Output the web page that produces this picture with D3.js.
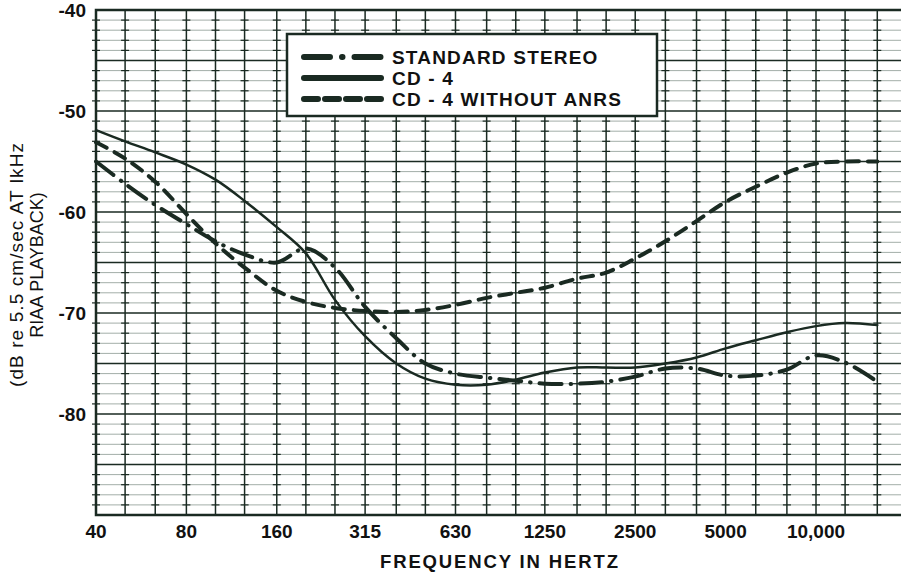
<!DOCTYPE html>
<html>
<head>
<meta charset="utf-8">
<script src="https://cdn.jsdelivr.net/npm/d3@7/dist/d3.min.js"></script>
<style>
    body { margin: 0; background: #fff; }
    svg { display: block; font-family: "Liberation Sans", Arial, sans-serif; }
</style>
</head>
<body>
<svg width="901" height="574"></svg>
<script>
// Частоты (1/3 октавы) и значения кривых, дБ
const freqs = [40, 50, 63, 80, 100, 125, 160, 200, 250, 315, 400, 500, 630, 800, 1000,
    1250, 1600, 2000, 2500, 3150, 4000, 5000, 6300, 8000, 10000, 12500, 16000];

const stereo = [-55.0, -57.2, -59.3, -61.2, -62.9, -64.2, -65.0, -63.6, -65.5, -69.4, -72.5, -75.0, -76.0, -76.4,
    -76.7, -77.0, -77.0, -76.8, -76.3, -75.5, -75.5, -76.2, -76.2, -75.6, -74.2, -74.9, -76.8];

const cd4 = [-51.9, -53.0, -54.1, -55.3, -56.8, -58.9, -61.5, -64.1, -68.7, -72.3, -75.0, -76.5, -77.1, -77.1,
    -76.6, -75.9, -75.4, -75.4, -75.4, -75.0, -74.4, -73.5, -72.7, -71.9, -71.3, -71.0, -71.2];

const cd4NoAnrs = [-53.1, -54.7, -57.0, -60.2, -63.1, -65.5, -67.8, -68.9, -69.5, -69.8, -69.9, -69.7, -69.2, -68.5,
    -68.0, -67.5, -66.6, -66.0, -64.6, -62.9, -60.9, -59.0, -57.5, -56.1, -55.2, -55.0, -55.0];

const xTickValues = [40, 80, 160, 315, 630, 1250, 2500, 5000, 10000];
const xTickLabels = ["40", "80", "160", "315", "630", "1250", "2500", "5000", "10,000"];
const yTicks = [-40, -50, -60, -70, -80];

const seriesNames = ["STANDARD STEREO", "CD - 4", "CD - 4 WITHOUT ANRS"];

const ink = "#1a2a22";

let svg = d3.select("svg");

// Размеры области графика
const area = { left: 96, right: 901, top: 10, bottom: 515 };

let scX = d3.scaleLog().domain([40, 10000]).range([area.left, 816]);
let scY = d3.scaleLinear().domain([-90, -40]).range([area.bottom, area.top]);

// Сетка
function drawGrid() {
    let g = svg.append("g");
    let minor = d3.range(-89, -40).filter(d => d % 5 !== 0);
    // мелкие горизонтальные линии
    g.selectAll(".hmin").data(minor).enter().append("line")
        .attr("x1", area.left).attr("x2", area.right)
        .attr("y1", d => scY(d)).attr("y2", d => scY(d))
        .attr("stroke", "#a3aea8").attr("stroke-width", 1);
    // засечки на пересечениях
    let cross = [];
    freqs.forEach(f => minor.forEach(v => cross.push([f, v])));
    g.selectAll(".tick").data(cross).enter().append("line")
        .attr("x1", d => scX(d[0]) - 4).attr("x2", d => scX(d[0]) + 4)
        .attr("y1", d => scY(d[1])).attr("y2", d => scY(d[1]))
        .attr("stroke", ink).attr("stroke-width", 1.2);
    // крупные горизонтальные линии (каждые 5 дБ)
    g.selectAll(".hmaj").data(d3.range(-85, -40, 5)).enter().append("line")
        .attr("x1", area.left).attr("x2", area.right)
        .attr("y1", d => scY(d)).attr("y2", d => scY(d))
        .attr("stroke", ink).attr("stroke-width", 1.6);
    // вертикальные линии
    g.selectAll(".v").data(freqs).enter().append("line")
        .attr("x1", d => scX(d)).attr("x2", d => scX(d))
        .attr("y1", area.top).attr("y2", area.bottom)
        .attr("stroke", ink).attr("stroke-width", 1.5);
    // рамка
    g.append("path")
        .attr("d", `M${area.right},${area.top}H${area.left}V${area.bottom}H${area.right}`)
        .attr("fill", "none").attr("stroke", ink).attr("stroke-width", 2.5);
}

// Подписи осей
function drawAxes() {
    svg.selectAll(".ylab").data(yTicks).enter().append("text")
        .attr("x", 86).attr("y", d => scY(d) + 7)
        .attr("text-anchor", "end")
        .attr("font-size", 19).attr("font-weight", "bold").attr("fill", "#111")
        .text(d => d);

    svg.selectAll(".xlab").data(xTickValues).enter().append("text")
        .attr("x", d => scX(d)).attr("y", 538)
        .attr("text-anchor", "middle")
        .attr("font-size", 19).attr("font-weight", "bold").attr("fill", "#111")
        .text((d, i) => xTickLabels[i]);

    svg.append("text")
        .attr("x", 380).attr("y", 568)
        .attr("textLength", 238).attr("lengthAdjust", "spacing")
        .attr("font-size", 18.5).attr("font-weight", "bold").attr("fill", "#111")
        .text("FREQUENCY IN HERTZ");

    let yt = svg.append("g").attr("transform", "translate(0,265) rotate(-90)");
    yt.append("text")
        .attr("x", 0).attr("y", 23).attr("text-anchor", "middle")
        .attr("textLength", 244).attr("lengthAdjust", "spacing")
        .attr("font-size", 19).attr("fill", "#111")
        .text("(dB re 5.5 cm/sec AT lkHz");
    yt.append("text")
        .attr("x", 0).attr("y", 43).attr("text-anchor", "middle")
        .attr("font-size", 18).attr("fill", "#111")
        .text("RIAA PLAYBACK)");
}

// Кривые
function drawLine(values, dash, width) {
    const lineGenerator = d3.line()
        .x((d, i) => scX(freqs[i]))
        .y(d => scY(d))
        .curve(d3.curveCatmullRom.alpha(0.5));
    svg.append("path")
        .datum(values)
        .attr("fill", "none")
        .attr("stroke", ink)
        .attr("stroke-width", width)
        .attr("stroke-linecap", "round")
        .attr("stroke-dasharray", dash)
        .attr("d", lineGenerator);
}

// Легенда
function drawLegend() {
    let g = svg.append("g");
    g.append("rect")
        .attr("x", 287).attr("y", 34).attr("width", 370).attr("height", 82)
        .attr("fill", "#fff").attr("stroke", ink).attr("stroke-width", 2.5);
    const dashes = ["26 12 0.5 12", null, "14 7"];
    const rows = [57, 78, 99];
    seriesNames.forEach((name, i) => {
        g.append("line")
            .attr("x1", 304).attr("x2", 381)
            .attr("y1", rows[i]).attr("y2", rows[i])
            .attr("stroke", ink).attr("stroke-width", 6)
            .attr("stroke-linecap", "round")
            .attr("stroke-dasharray", dashes[i]);
        g.append("text")
            .attr("x", 392).attr("y", rows[i] + 7)
            .attr("font-size", 19).attr("font-weight", "bold").attr("fill", "#111")
            .attr("letter-spacing", 1.2)
            .text(name);
    });
}

drawGrid();
drawAxes();
drawLine(cd4NoAnrs, "12 9", 4);
drawLine(stereo, "22 9 0.5 9", 4);
drawLine(cd4, null, 2.5);
drawLegend();
</script>
</body>
</html>
